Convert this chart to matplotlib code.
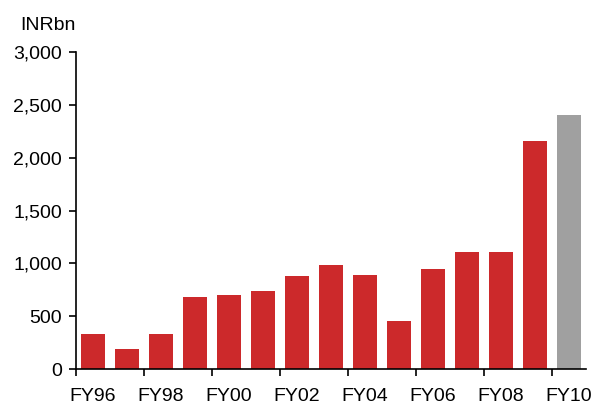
import matplotlib
matplotlib.use("Agg")
import matplotlib.pyplot as plt
import numpy as np

years = ["FY96", "FY97", "FY98", "FY99", "FY00", "FY01", "FY02", "FY03",
         "FY04", "FY05", "FY06", "FY07", "FY08", "FY09", "FY10"]
values = [331, 189, 331, 685, 701, 739, 881, 985, 890, 455, 947, 1108, 1108, 2160, 2406]
# last one is an estimate, drawn grey
colours = ["#CC292B"] * 14 + ["#A0A0A0"]

plt.rcParams['font.family'] = ['Liberation Sans', 'DejaVu Sans']

fig = plt.figure(figsize=(5.95, 4.05), dpi=100)
ax = fig.add_axes([76 / 595, 1 - 369 / 405, 510 / 595, 317 / 405])

x = np.arange(len(years))
ax.bar(x, values, width=0.68, color=colours)

ax.set_xlim(-0.5, len(years) - 0.5)
ax.set_ylim(0, 3000)
ax.set_yticks(range(0, 3001, 500))
ax.set_yticklabels([f"{v:,}" for v in range(0, 3001, 500)])

# ticks on the category boundaries, labels on the bar centres
ax.set_xticks(np.arange(-0.5, len(years) - 1, 2))
ax.set_xticklabels([])
ax.set_xticks(x[::2], minor=True)
ax.set_xticklabels(years[::2], minor=True)
ax.tick_params(axis="x", which="minor", length=0, pad=14, labelsize=14)
ax.tick_params(axis="x", which="major", length=5, width=1.2, direction="out")
ax.tick_params(axis="y", length=5, width=1.2, labelsize=14, pad=5)

for side in ["top", "right"]:
    ax.spines[side].set_visible(False)
for side in ["left", "bottom"]:
    ax.spines[side].set_linewidth(1.2)

fig.text(20 / 595, 1 - 25 / 405, "INRbn", fontsize=14, va="center", ha="left")

fig.savefig("out.png", dpi=100)
